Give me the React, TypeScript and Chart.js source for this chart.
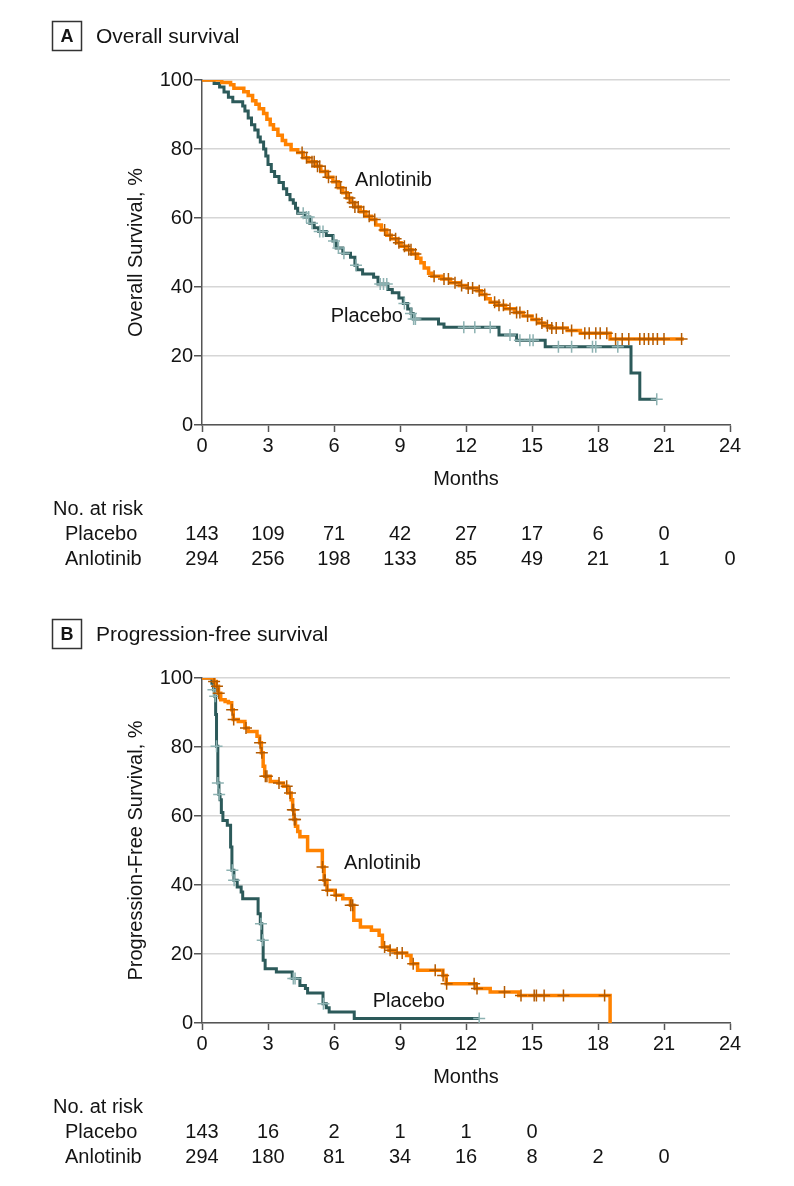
import { useEffect, useRef } from "react";
import { Chart, registerables } from "chart.js";
Chart.register(...registerables);

const FONT = "'Liberation Sans', Arial, sans-serif";
const TEXT = "#141414";
const ORANGE = "#FF8200";
const ORANGE_MARK = "#B35A00";
const TEAL = "#2C5A5A";
const TEAL_MARK = "#8DB2B2";

const monthTicks = [0, 3, 6, 9, 12, 15, 18, 21, 24];

// ---- Panel A: overall survival ----
const osAnlTime = [0, 0.9, 1.3, 1.45, 1.9, 2.1, 2.3, 2.45, 2.6, 2.8, 2.95, 3.1, 3.25, 3.45, 3.65, 3.8, 4.05, 4.35, 4.6, 4.85, 5.15, 5.4, 5.7, 5.95, 6.2, 6.4, 6.6, 6.75, 6.95, 7.2, 7.45, 7.7, 7.9, 8.15, 8.4, 8.6, 8.85, 9.05, 9.3, 9.55, 9.8, 9.95, 10.1, 10.3, 10.45, 10.9, 11.3, 11.7, 12.05, 12.5, 12.7, 12.9, 13.1, 13.4, 13.8, 14.2, 14.6, 15.0, 15.3, 15.55, 15.85, 16.6, 17.2, 18.55, 21.9];
const osAnlSurv = [100, 99.3, 98.6, 97.6, 96.6, 95.5, 94, 93, 91.7, 90.3, 88.6, 87, 85.7, 84, 82.5, 81.3, 79.8, 79, 77.5, 76.3, 75, 73.5, 71.8, 70.5, 68.8, 67.3, 65.8, 64.5, 63.2, 61.8, 60.5, 59.6, 58, 56.5, 55, 54, 52.8, 51.8, 50.8, 49.6, 48.3, 47, 45.5, 44, 43.1, 42.3, 41.2, 40.4, 39.7, 38.9, 37.8, 36.6, 35.6, 34.7, 33.7, 32.6, 31.6, 30.6, 29.6, 28.8, 28.1, 27.4, 26.6, 24.9, 24.9];
const osAnlCensor = [4.55, 4.75, 5.0, 5.1, 5.25, 5.35, 5.6, 5.75, 6.1, 6.3, 6.55, 6.7, 6.85, 6.95, 7.1, 7.35, 7.6, 7.85, 8.3, 8.55, 8.8, 8.95, 9.2, 9.4, 9.5, 9.7, 10.55, 11.0, 11.2, 11.5, 11.8, 12.1, 12.3, 12.6, 12.85, 13.3, 13.5, 13.7, 14.0, 14.3, 14.45, 14.8, 15.2, 15.45, 15.7, 15.9, 16.1, 16.4, 16.8, 17.4, 17.6, 17.9, 18.1, 18.4, 18.8, 19.1, 19.4, 19.9, 20.1, 20.3, 20.5, 20.7, 21.0, 21.8];

const osPlaTime = [0, 0.55, 0.8, 1.0, 1.2, 1.4, 1.85, 1.95, 2.1, 2.25, 2.4, 2.55, 2.65, 2.8, 2.9, 3.0, 3.15, 3.3, 3.5, 3.7, 3.85, 4.0, 4.15, 4.25, 4.35, 4.7, 4.9, 5.1, 5.3, 5.65, 5.95, 6.1, 6.4, 6.75, 6.95, 7.05, 7.3, 7.8, 8.0, 8.45, 8.65, 8.95, 9.15, 9.35, 9.5, 9.6, 10.75, 11.0, 13.5, 14.3, 15.6, 19.5, 19.9, 20.67];
const osPlaSurv = [100, 99, 98, 96.5, 95, 93.7, 92.5, 91, 89, 87, 85.5, 83.5, 82, 80, 78, 75.5, 73.5, 72, 70.3, 68.5, 66.8, 65.3, 64.3, 62.8, 61.4, 60.3, 58.5, 57.2, 56.1, 54.9, 53.3, 51.3, 49.8, 48.6, 46.3, 45, 43.8, 42.8, 40.9, 39.3, 38.3, 36.8, 35.2, 33.6, 32.3, 30.7, 29.3, 28.3, 26.1, 24.6, 22.7, 15.1, 7.5, 7.5];
const osPlaCensor = [4.6, 4.75, 4.85, 5.0, 5.35, 5.5, 6.0, 6.2, 6.45, 7.0, 8.1, 8.25, 8.4, 9.2, 9.5, 9.62, 9.7, 11.9, 12.4, 13.1, 14.0, 14.45, 14.9, 15.05, 16.2, 16.8, 17.75, 17.9, 18.9, 20.67];

const osRiskPlacebo = [143, 109, 71, 42, 27, 17, 6, 0];
const osRiskAnlotinib = [294, 256, 198, 133, 85, 49, 21, 1, 0];

// ---- Panel B: progression-free survival ----
const pfsAnlTime = [0, 0.55, 0.65, 0.75, 0.85, 1.05, 1.2, 1.35, 1.42, 1.65, 1.95, 2.1, 2.5, 2.62, 2.7, 2.78, 2.85, 3.1, 3.45, 3.7, 3.9, 4.05, 4.12, 4.18, 4.25, 4.35, 4.45, 4.8, 5.47, 5.55, 5.68, 6.05, 6.4, 6.75, 6.9, 7.2, 7.7, 8.05, 8.2, 8.5, 8.8, 9.3, 9.5, 9.8, 10.95, 11.1, 12.45, 13.1, 14.4, 18.55];
const pfsAnlSurv = [100, 99, 97.6, 95.6, 93.7, 93.2, 92.8, 90.8, 88, 87.4, 85.5, 84.5, 83.1, 81.2, 78.3, 74.4, 71.5, 70, 69.6, 68.6, 66.7, 64.7, 61.8, 59, 57, 55.5, 54, 50, 45.2, 41.4, 38.5, 37, 36, 34.1, 29.8, 27.8, 26.9, 25.4, 22, 21.1, 20.3, 19.6, 17.2, 15.3, 13.8, 11.4, 10, 9, 8, 0];
const pfsAnlCensor = [0.55, 0.68, 0.76, 1.37, 1.44, 2.0, 2.64, 2.72, 2.88, 2.95, 3.5, 3.85, 4.0, 4.13, 4.16, 4.2, 4.23, 5.48, 5.56, 5.6, 5.7, 6.1, 6.76, 6.85, 8.3, 8.55, 8.87, 9.1, 9.6, 10.6, 10.96, 11.12, 12.37, 12.5, 13.75, 14.5, 15.1, 15.2, 15.55, 16.43, 18.3];

const pfsPlaTime = [0, 0.45, 0.52, 0.58, 0.62, 0.66, 0.72, 0.77, 0.82, 0.88, 0.95, 1.15, 1.3, 1.36, 1.45, 1.6, 1.78, 1.85, 2.55, 2.65, 2.72, 2.78, 2.87, 3.38, 4.1, 4.45, 4.7, 4.8, 5.5, 5.65, 5.78, 6.92, 12.6];
const pfsPlaSurv = [100, 98.5, 96.6, 94.7, 89.4, 80.2, 69.6, 66.2, 64.7, 61, 58.7, 57.3, 51, 44.3, 41.4, 39.4, 38, 36, 31.7, 28.8, 24, 18.2, 15.7, 14.8, 12.9, 10.9, 10, 8.7, 5.6, 4.4, 3.2, 1.3, 1.3];
const pfsPlaCensor = [0.52, 0.6, 0.66, 0.72, 0.78, 1.38, 1.46, 2.68, 2.76, 4.15, 4.23, 5.52, 12.6];

const pfsRiskPlacebo = [143, 16, 2, 1, 1, 0];
const pfsRiskAnlotinib = [294, 180, 81, 34, 16, 8, 2, 0];

// curve label anchors (month, percent)
const osLabels = [
  { text: "Anlotinib", month: 6.96, pct: 70.8 },
  { text: "Placebo", month: 5.85, pct: 31.4 },
];
const pfsLabels = [
  { text: "Anlotinib", month: 6.46, pct: 46.1 },
  { text: "Placebo", month: 7.76, pct: 6.1 },
];

function steps(times: number[], surv: number[]) {
  return times.map((t, i) => ({ x: t, y: surv[i] }));
}
function kmAt(times: number[], surv: number[], t: number) {
  let v = surv[0];
  for (let i = 0; i < times.length; i++) if (times[i] <= t + 1e-9) v = surv[i];
  return v;
}
function censorPts(times: number[], surv: number[], cens: number[]) {
  return cens.map((t) => ({ x: t, y: kmAt(times, surv, t) }));
}

const overlayPlugin = {
  id: "overlay",
  afterDraw(chart: any, _args: any, opts: any) {
    const { ctx } = chart;
    const xs = chart.scales.x;
    const ys = chart.scales.y;
    ctx.save();
    ctx.fillStyle = TEXT;
    ctx.strokeStyle = "#333";
    ctx.lineWidth = 1.5;
    ctx.strokeRect(52.5, 21.5, 29, 29);
    ctx.font = `bold 18px ${FONT}`;
    ctx.textAlign = "center";
    ctx.textBaseline = "middle";
    ctx.fillText(opts.letter, 67, 37);
    ctx.font = `21px ${FONT}`;
    ctx.textAlign = "left";
    ctx.fillText(opts.title, 96, 37);
    ctx.font = `20px ${FONT}`;
    opts.labels.forEach((l: any) => {
      ctx.fillText(l.text, xs.getPixelForValue(l.month), ys.getPixelForValue(l.pct));
    });
    ctx.fillText("No. at risk", 53, 509);
    opts.risk.forEach((row: any, r: number) => {
      const yy = 534 + r * 25;
      ctx.textAlign = "left";
      ctx.fillText(row.name, 65, yy);
      ctx.textAlign = "center";
      row.values.forEach((v: number, i: number) => {
        ctx.fillText(String(v), xs.getPixelForValue(monthTicks[i]), yy);
      });
    });
    ctx.restore();
  },
};

function Panel(props: any) {
  const ref = useRef<HTMLCanvasElement>(null);
  useEffect(() => {
    const c = props.cfg;
    const chart = new Chart(ref.current as HTMLCanvasElement, {
      type: "line",
      data: {
        datasets: [
          {
            data: censorPts(c.anlT, c.anlS, c.anlC),
            showLine: false,
            pointStyle: "cross",
            pointRadius: 6,
            pointBorderWidth: 1.5,
            pointBorderColor: ORANGE_MARK,
            borderColor: ORANGE_MARK,
            order: 1,
          },
          {
            data: steps(c.anlT, c.anlS),
            stepped: "before",
            borderColor: ORANGE,
            borderWidth: 3.5,
            pointRadius: 0,
            order: 2,
          },
          {
            data: censorPts(c.plaT, c.plaS, c.plaC),
            showLine: false,
            pointStyle: "cross",
            pointRadius: 6,
            pointBorderWidth: 1.5,
            pointBorderColor: TEAL_MARK,
            borderColor: TEAL_MARK,
            order: 3,
          },
          {
            data: steps(c.plaT, c.plaS),
            stepped: "before",
            borderColor: TEAL,
            borderWidth: 3,
            pointRadius: 0,
            order: 4,
          },
        ],
      } as any,
      options: {
        animation: false,
        responsive: false,
        devicePixelRatio: 1,
        layout: { padding: { left: 0, right: 64, top: 80, bottom: 83 } },
        plugins: {
          legend: { display: false },
          tooltip: { enabled: false },
          overlay: { letter: c.letter, title: c.title, labels: c.labels, risk: c.risk },
        } as any,
        scales: {
          x: {
            type: "linear",
            min: 0,
            max: 24,
            afterFit: (s: any) => {
              s.height = 80;
            },
            ticks: { stepSize: 3, color: TEXT, font: { family: FONT, size: 20 }, padding: 2 },
            grid: { display: true, drawOnChartArea: false, drawTicks: true, tickLength: 7, tickColor: "#555", tickWidth: 1.5 },
            border: { display: true, color: "#555", width: 1.5 },
            title: { display: true, text: "Months", color: TEXT, font: { family: FONT, size: 20 }, padding: { top: 0, bottom: 14 } },
          },
          y: {
            type: "linear",
            min: 0,
            max: 100,
            afterFit: (s: any) => {
              s.width = 202;
            },
            ticks: { stepSize: 20, color: TEXT, font: { family: FONT, size: 20 }, padding: 1 },
            grid: { color: "#d6d6d6", lineWidth: 1.5, tickLength: 8, tickColor: "#555", tickWidth: 1.5 },
            border: { display: true, color: "#555", width: 1.5 },
            title: { display: true, text: c.yTitle, color: TEXT, font: { family: FONT, size: 20 }, padding: { top: 124, bottom: 0 } },
          },
        },
      } as any,
      plugins: [overlayPlugin as any],
    });
    return () => chart.destroy();
  }, []);
  return (
    <canvas
      ref={ref}
      width={794}
      height={588}
      style={{ position: "absolute", left: 0, top: props.top, width: 794, height: 588, display: "block" }}
    />
  );
}

const panelA = {
  letter: "A",
  title: "Overall survival",
  yTitle: "Overall Survival, %",
  anlT: osAnlTime,
  anlS: osAnlSurv,
  anlC: osAnlCensor,
  plaT: osPlaTime,
  plaS: osPlaSurv,
  plaC: osPlaCensor,
  labels: osLabels,
  risk: [
    { name: "Placebo", values: osRiskPlacebo },
    { name: "Anlotinib", values: osRiskAnlotinib },
  ],
};

const panelB = {
  letter: "B",
  title: "Progression-free survival",
  yTitle: "Progression-Free Survival, %",
  anlT: pfsAnlTime,
  anlS: pfsAnlSurv,
  anlC: pfsAnlCensor,
  plaT: pfsPlaTime,
  plaS: pfsPlaSurv,
  plaC: pfsPlaCensor,
  labels: pfsLabels,
  risk: [
    { name: "Placebo", values: pfsRiskPlacebo },
    { name: "Anlotinib", values: pfsRiskAnlotinib },
  ],
};

export default function App() {
  return (
    <div style={{ position: "absolute", left: 0, top: 0, width: 794, height: 1186, background: "#fff" }}>
      <Panel cfg={panelA} top={0} />
      <Panel cfg={panelB} top={598} />
    </div>
  );
}
